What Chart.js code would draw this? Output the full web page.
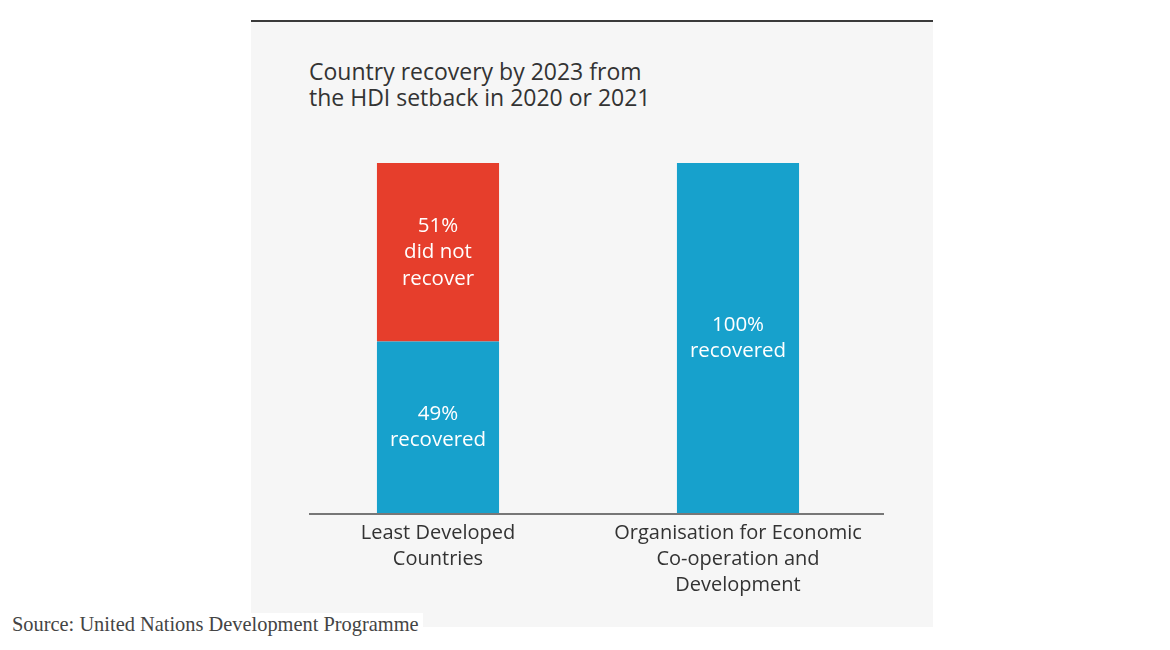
<!DOCTYPE html>
<html>
<head>
<meta charset="utf-8">
<script src="https://cdn.jsdelivr.net/npm/chart.js@4"></script>
<style>
  body { margin: 0; background: #fff; width: 1170px; height: 650px; position: relative; overflow: hidden; }
  #panel { position: absolute; left: 251px; top: 20px; width: 682px; height: 607px; background: #f6f6f6; border-top: 2px solid #3a3a3a; box-sizing: border-box; }
  #title { position: absolute; left: 309px; top: 58px; font-family: "Open Sans", sans-serif; font-size: 23px; line-height: 26px; color: #333; }
  #wrap { position: absolute; left: 251px; top: 130px; width: 682px; height: 480px; }
  #source { position: absolute; left: 0; top: 613px; padding: 0 4px 0 12px; height: 37px; background: #fff; font-family: "Liberation Serif", serif; font-size: 20.4px; line-height: 22px; color: #444; }
</style>
</head>
<body>
<div id="panel"></div>
<div id="title">Country recovery by 2023 from<br>the HDI setback in 2020 or 2021</div>
<div id="wrap"><canvas id="chart"></canvas></div>
<div id="source">Source: United Nations Development Programme</div>
<script>
const categories = [["Least Developed", "Countries"], ["Organisation for Economic", "Co-operation and", "Development"]]
const recovered = [49, 100]
const notRecovered = [51, 0]
const recoveredLabels = [["49%", "recovered"], ["100%", "recovered"]]
const notRecoveredLabels = [["51%", "did not", "recover"], null]

// white text inside each bar segment
const barText = {
  id: "barText",
  afterDatasetsDraw(chart) {
    const ctx = chart.ctx
    ctx.save()
    ctx.fillStyle = "#ffffff"
    ctx.font = "20.5px 'Open Sans', sans-serif"
    ctx.textAlign = "center"
    ctx.textBaseline = "middle"
    chart.data.datasets.forEach((ds, i) => {
      const meta = chart.getDatasetMeta(i)
      meta.data.forEach((bar, j) => {
        const lines = ds.texts[j]
        if (!lines) return
        const mid = (bar.y + bar.base) / 2
        const lh = 26.5
        lines.forEach((t, k) => {
          ctx.fillText(t, bar.x, mid + (k - (lines.length - 1) / 2) * lh)
        })
      })
    })
    ctx.restore()
  }
}

// grey baseline under the bars
const baseline = {
  id: "baseline",
  afterDatasetsDraw(chart) {
    const ctx = chart.ctx
    const y = chart.scales.y.getPixelForValue(0)
    ctx.save()
    ctx.strokeStyle = "#777777"
    ctx.lineWidth = 2
    ctx.beginPath()
    ctx.moveTo(chart.chartArea.left + 21, y + 1)
    ctx.lineTo(chart.chartArea.right - 4, y + 1)
    ctx.stroke()
    ctx.restore()
  }
}

new Chart(document.getElementById("chart"), {
  type: "bar",
  data: {
    labels: categories,
    datasets: [
      { label: "Recovered", data: recovered, texts: recoveredLabels, backgroundColor: "#17a1cc", borderWidth: 0 },
      { label: "Did not recover", data: notRecovered, texts: notRecoveredLabels, backgroundColor: "#e63e2c", borderWidth: 0 }
    ]
  },
  options: {
    responsive: true,
    maintainAspectRatio: false,
    animation: false,
    datasets: { bar: { categoryPercentage: 1, barPercentage: 0.407 } },
    layout: { padding: { left: 37, right: 45, top: 33, bottom: 0 } },
    plugins: { legend: { display: false }, tooltip: { enabled: false } },
    scales: {
      x: {
        stacked: true,
        grid: { display: false, drawTicks: false },
        border: { display: false },
        ticks: {
          color: "#333",
          font: { family: "'Open Sans', sans-serif", size: 20, lineHeight: 1.3 },
          padding: 7,
          maxRotation: 0,
          autoSkip: false
        },
        afterFit(scale) { scale.height = 97 }
      },
      y: {
        stacked: true,
        display: false,
        min: 0,
        max: 100
      }
    }
  },
  plugins: [barText, baseline]
})
</script>
</body>
</html>
